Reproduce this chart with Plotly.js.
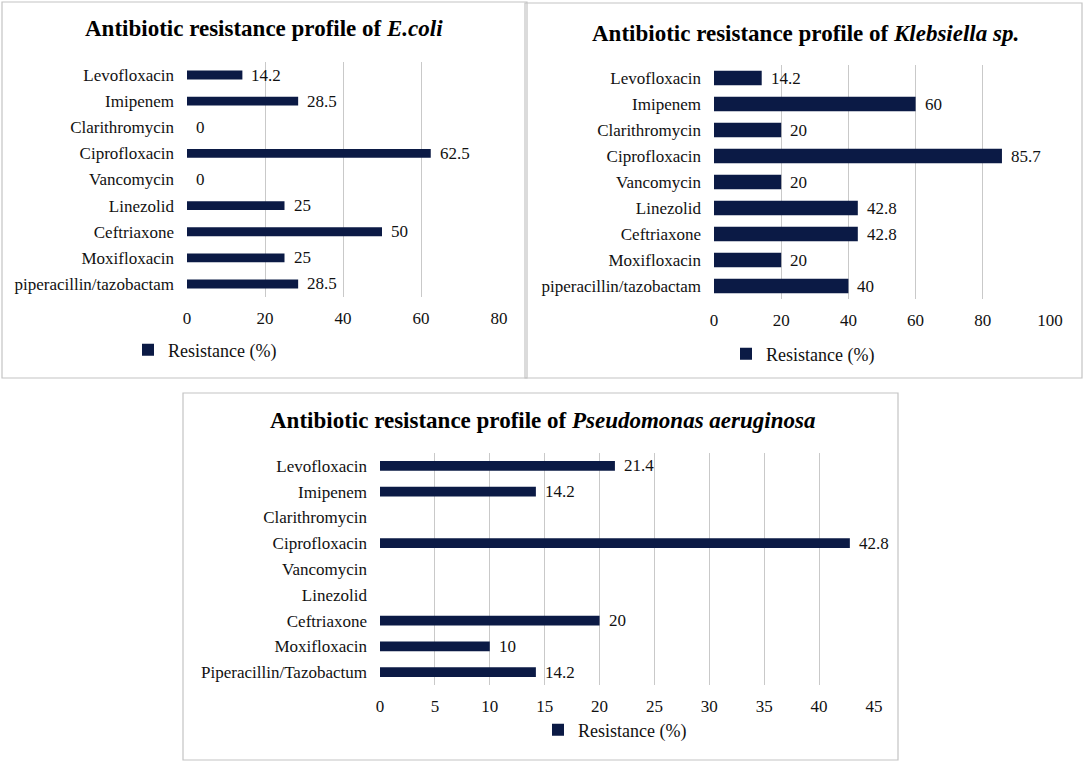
<!DOCTYPE html>
<html>
<head>
<meta charset="utf-8">
<script src="https://cdn.plot.ly/plotly-3.0.1.min.js"></script>
<style>html,body{margin:0;padding:0;background:#fff;}#chart{width:1084px;height:763px;}</style>
</head>
<body>
<div id="chart"></div>
<script>
// ---- Data ----
const categoriesTop = ['Levofloxacin','Imipenem','Clarithromycin','Ciprofloxacin','Vancomycin','Linezolid','Ceftriaxone','Moxifloxacin','piperacillin/tazobactam'];
const categoriesBottom = ['Levofloxacin','Imipenem','Clarithromycin','Ciprofloxacin','Vancomycin','Linezolid','Ceftriaxone','Moxifloxacin','Piperacillin/Tazobactum'];
const ecoliResistance = [14.2, 28.5, 0, 62.5, 0, 25, 50, 25, 28.5];
const klebsiellaResistance = [14.2, 60, 20, 85.7, 20, 42.8, 42.8, 20, 40];
const pseudomonasResistance = [21.4, 14.2, null, 42.8, null, null, 20, 10, 14.2];
const ticksEcoli = [0, 20, 40, 60, 80];
const ticksKlebsiella = [0, 20, 40, 60, 80, 100];
const ticksPseudomonas = [0, 5, 10, 15, 20, 25, 30, 35, 40, 45];
const seriesName = 'Resistance (%)';
const titleEcoli = '<b>Antibiotic resistance profile of <i>E.coli</i></b>';
const titleKlebsiella = '<b>Antibiotic resistance profile of <i>Klebsiella sp.</i></b>';
const titlePseudomonas = '<b>Antibiotic resistance profile of <i>Pseudomonas aeruginosa</i></b>';

// ---- Style ----
const W = 1084, H = 763;
const FONT = '"Liberation Serif", "Times New Roman", serif';
const BAR = '#0b1a45';
const GRID = '#c9c9c9';
const TXT = '#111111';
const px = v => v / W;
const py = v => 1 - v / H;

function barTrace(cats, vals, xa, ya, lg, width) {
  return {
    type: 'bar', orientation: 'h', x: vals, y: cats, xaxis: xa, yaxis: ya,
    name: seriesName, legend: lg, width: width,
    marker: {color: BAR, line: {width: 0}},
    hoverinfo: 'x+y', cliponaxis: false
  };
}
function labels(cats, vals, xr, yr) {
  const out = [];
  vals.forEach((v, i) => {
    if (v === null) return;
    out.push({x: v, y: cats[i], xref: xr, yref: yr, text: String(v), showarrow: false,
      xanchor: 'left', yanchor: 'middle', xshift: 7, font: {family: FONT, size: 17, color: TXT}});
  });
  return out;
}
function xAxis(dom, anchor, ticks) {
  return {domain: dom, anchor: anchor, range: [ticks[0], ticks[ticks.length - 1]], tickvals: ticks,
    showgrid: true, gridcolor: GRID, gridwidth: 1, zeroline: false, showline: false, ticks: '',
    tickfont: {family: FONT, size: 17, color: TXT}, ticklabelstandoff: 9, fixedrange: true};
}
function yAxis(dom, anchor, cats) {
  return {domain: dom, anchor: anchor, type: 'category', categoryarray: cats, categoryorder: 'array',
    autorange: 'reversed', showgrid: false, zeroline: false, showline: false, ticks: '',
    tickfont: {family: FONT, size: 17, color: TXT}, ticklabelstandoff: 12, fixedrange: true};
}
function legendAt(xc, yc) {
  return {x: px(xc - 20), y: py(yc), xanchor: 'left', yanchor: 'middle', orientation: 'h',
    bgcolor: 'rgba(0,0,0,0)', font: {family: FONT, size: 18, color: TXT}};
}
function border(x0, y0, x1, y1) {
  return {type: 'rect', xref: 'paper', yref: 'paper', x0: px(x0), x1: px(x1), y0: py(y1), y1: py(y0),
    line: {color: '#c4c4c4', width: 1.2}, fillcolor: 'rgba(0,0,0,0)', layer: 'below'};
}
function title(text, xc, yc) {
  return {text: text, xref: 'paper', yref: 'paper', x: px(xc), y: py(yc), xanchor: 'center', yanchor: 'middle',
    showarrow: false, font: {family: FONT, size: 23, color: '#000'}};
}

const data = [
  barTrace(categoriesTop, ecoliResistance, 'x', 'y', 'legend', 0.34),
  barTrace(categoriesTop, klebsiellaResistance, 'x2', 'y2', 'legend2', 0.55),
  barTrace(categoriesBottom, pseudomonasResistance, 'x3', 'y3', 'legend3', 0.38)
];

const layout = {
  width: W, height: H, margin: {l: 0, r: 0, t: 0, b: 0},
  paper_bgcolor: '#fff', plot_bgcolor: 'rgba(0,0,0,0)', showlegend: true,
  xaxis: xAxis([px(187), px(499)], 'y', ticksEcoli),
  yaxis: yAxis([py(297), py(62)], 'x', categoriesTop),
  xaxis2: xAxis([px(714), px(1050)], 'y2', ticksKlebsiella),
  yaxis2: yAxis([py(299), py(65)], 'x2', categoriesTop),
  xaxis3: xAxis([px(380), px(874)], 'y3', ticksPseudomonas),
  yaxis3: yAxis([py(685), py(453)], 'x3', categoriesBottom),
  legend: legendAt(148, 350),
  legend2: legendAt(746, 354),
  legend3: legendAt(558, 730),
  shapes: [border(2, 2, 527, 378), border(525, 3, 1082, 378), border(183, 393, 898, 760)],
  annotations: [
    title(titleEcoli, 264, 28),
    title(titleKlebsiella, 805, 33),
    title(titlePseudomonas, 542, 420)
  ].concat(labels(categoriesTop, ecoliResistance, 'x', 'y'))
   .concat(labels(categoriesTop, klebsiellaResistance, 'x2', 'y2'))
   .concat(labels(categoriesBottom, pseudomonasResistance, 'x3', 'y3'))
};

Plotly.newPlot('chart', data, layout, {displayModeBar: false, staticPlot: true});
</script>
</body>
</html>
